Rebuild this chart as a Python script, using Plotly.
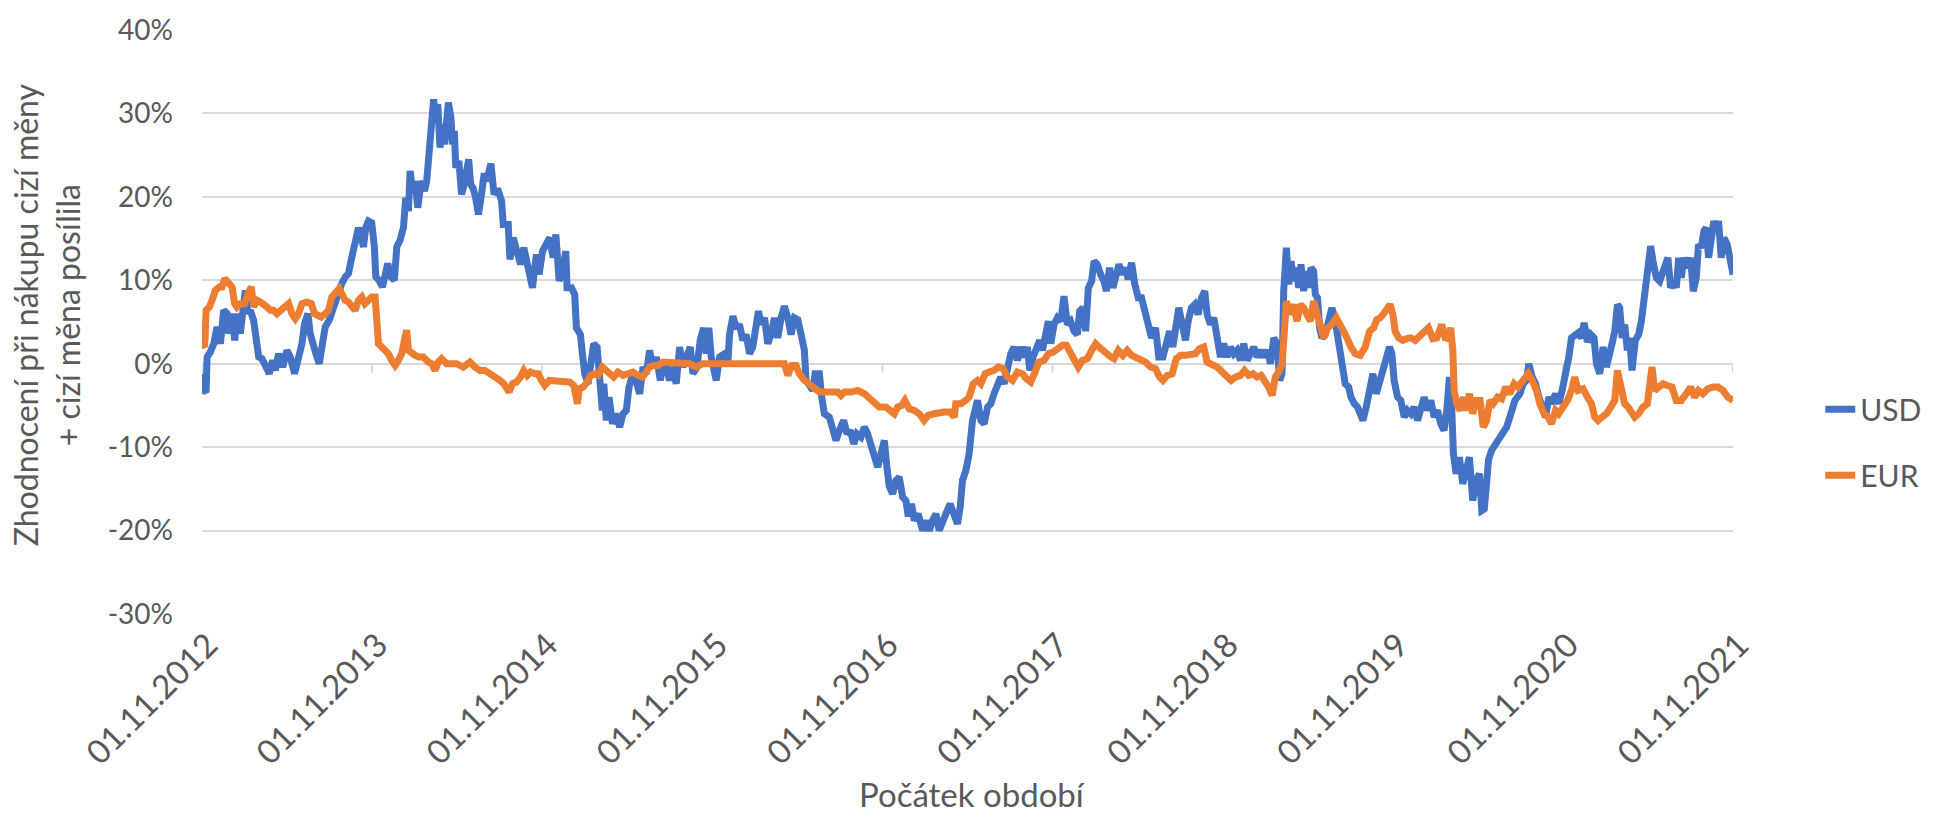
import pandas as pd
import plotly.graph_objects as go

# ---------------- data ----------------
# (months since 01.11.2012, % change)
usd_readings = [
    (0, -1.2), (0.12, -3.2), (0.29, -3.4), (0.36, 0.8), (0.59, 1.4), (0.83, 2.4), (1.06, 4.4), (1.30, 2.4),
    (1.53, 6.4), (1.77, 6.0), (1.88, 3.6), (2.12, 6.0), (2.31, 2.8), (2.47, 6.0), (2.70, 3.6), (2.82, 5.2),
    (3.06, 8.8), (3.24, 6.0), (3.41, 6.4), (3.64, 5.2), (3.81, 3.2), (4.00, 0.8), (4.23, 0.6), (4.47, -0.4),
    (4.75, -1.2), (4.98, 0.4), (5.17, -0.8), (5.40, 1.2), (5.69, -0.4), (5.99, 1.6), (6.23, 0.8), (6.53, -1.2),
    (6.77, 0.4), (7.05, 2.4), (7.23, 4.8), (7.47, 6.0), (7.63, 3.6), (7.80, 2.4), (8.03, 1.2), (8.27, 0.0),
    (8.45, 2.4), (8.69, 4.4), (8.97, 5.2), (9.21, 6.4), (9.44, 7.6), (9.68, 9.2), (9.86, 9.6), (10.10, 10.4),
    (10.33, 10.8), (10.57, 12.8), (10.80, 14.8), (11.04, 16.3), (11.23, 15.2), (11.39, 14.0), (11.55, 16.3),
    (11.74, 17.1), (11.97, 16.9), (12.16, 14.0), (12.26, 10.4), (12.49, 10.0), (12.73, 9.2), (12.92, 10.4),
    (13.10, 12.0), (13.34, 10.4), (13.57, 10.0), (13.74, 14.0), (13.97, 14.8), (14.21, 16.3), (14.37, 19.9),
    (14.56, 18.3), (14.68, 23.1), (14.85, 20.7), (15.03, 21.9), (15.22, 18.7), (15.46, 21.9), (15.69, 20.7),
    (15.85, 21.9), (15.97, 24.3), (16.15, 28.7), (16.34, 31.7), (16.49, 29.1), (16.63, 31.1), (16.79, 25.9),
    (16.96, 28.7), (17.10, 26.3), (17.26, 29.9), (17.38, 31.3), (17.56, 29.5), (17.66, 26.3), (17.80, 27.9),
    (17.90, 23.5), (18.12, 24.3), (18.31, 20.3), (18.5, 21.5), (18.81, 24.5), (18.95, 21.5), (19.13, 21.0),
    (19.30, 19.9), (19.5, 17.9), (19.72, 20.3), (19.9, 22.8), (20.07, 21.9), (20.38, 24.0), (20.6, 20.3),
    (20.85, 21.0), (21.13, 19.5), (21.25, 16.7), (21.6, 16.7), (21.72, 12.5), (21.95, 15.1), (22.18, 13.3),
    (22.47, 11.9), (22.7, 13.9), (23.0, 11.5), (23.31, 9.1), (23.59, 13.1), (23.78, 10.7), (24.02, 13.5),
    (24.3, 14.3), (24.53, 15.1), (24.77, 12.7), (24.96, 15.5), (25.19, 9.9), (25.47, 11.5), (25.66, 13.5),
    (25.75, 9.1), (26.06, 9.1), (26.29, 8.3), (26.41, 4.3), (26.69, 3.5), (26.83, 1.2), (27.0, -1.2),
    (27.23, -2.4), (27.47, 0.4), (27.63, 2.4), (27.87, 2.0), (28.05, -2.0), (28.24, -5.6), (28.34, -2.4),
    (28.52, -6.8), (28.71, -4.0), (28.95, -7.2), (29.18, -6.0), (29.46, -7.6), (29.7, -6.0), (29.93, -5.6),
    (30.12, -2.8), (30.4, -1.2), (30.68, -2.4), (30.87, -3.6), (31.11, -0.4), (31.34, -1.2), (31.57, 1.6),
    (31.81, -0.4), (32.05, 0.8), (32.33, -2.0), (32.51, 0.0), (32.75, -0.4), (32.98, -2.0), (33.17, -0.4),
    (33.45, -2.4), (33.69, 2.0), (33.92, -0.4), (34.2, 1.2), (34.44, 2.0), (34.63, -1.2), (34.91, -0.4),
    (35.14, 2.8), (35.38, 4.3), (35.57, 1.2), (35.75, 4.3), (35.92, 0.8), (36.1, -0.8), (36.27, -2.0),
    (36.51, 0.8), (36.86, 1.2), (37.09, 0.0), (37.21, 3.5), (37.45, 5.7), (37.68, 4.3), (37.91, 4.7),
    (38.15, 2.8), (38.38, 3.5), (38.62, 1.2), (38.85, 2.0), (39.02, 4.3), (39.25, 6.3), (39.44, 4.7),
    (39.68, 5.5), (39.91, 2.4), (40.14, 3.5), (40.38, 5.5), (40.61, 3.1), (40.85, 5.5), (41.08, 6.9),
    (41.32, 5.5), (41.55, 3.5), (41.79, 5.5), (42.02, 5.3), (42.26, 3.5), (42.49, 1.6), (42.61, -2.0),
    (42.84, -2.8), (43.08, -3.2), (43.24, -1.2), (43.55, -1.2), (43.71, -4.0), (43.9, -6.0), (44.25, -6.4),
    (44.49, -7.6), (44.72, -9.2), (44.96, -8.0), (45.26, -6.8), (45.5, -8.4), (45.73, -8.0), (45.97, -9.6),
    (46.2, -8.4), (46.48, -8.8), (46.72, -7.6), (46.95, -8.4), (47.19, -10.0), (47.42, -10.8), (47.66, -12.4),
    (47.89, -10.8), (48.13, -9.2), (48.31, -12.4), (48.48, -14.7), (48.71, -15.6), (48.95, -14.0),
    (49.18, -13.6), (49.42, -16.0), (49.65, -16.4), (49.82, -18.3), (50.05, -16.8), (50.24, -18.8),
    (50.52, -18.0), (50.83, -20.0), (51.06, -18.8), (51.3, -20.0), (51.53, -18.8), (51.77, -18.0),
    (52.0, -20.0), (52.23, -18.8), (52.47, -18.0), (52.77, -16.8), (53.06, -18.0), (53.29, -19.2),
    (53.48, -17.2), (53.64, -14.0), (53.88, -12.8), (54.11, -10.8), (54.35, -6.8), (54.58, -5.6), (54.7, -4.4),
    (54.94, -6.8), (55.17, -7.2), (55.41, -5.2), (55.64, -4.8), (55.87, -3.6), (56.11, -2.8), (56.34, -1.6),
    (56.58, -2.4), (56.81, -0.4), (57.05, 1.2), (57.28, 2.0), (57.52, 0.4), (57.75, 2.0), (57.99, 0.8),
    (58.22, 2.0), (58.39, -0.8), (58.62, 0.8), (58.86, 1.6), (59.09, 2.8), (59.28, 1.6), (59.47, 3.5),
    (59.7, 5.1), (59.87, 2.4), (60.1, 4.7), (60.33, 5.5), (60.57, 5.1), (60.8, 8.1), (61.04, 4.7),
    (61.27, 5.1), (61.51, 3.9), (61.74, 3.5), (61.91, 6.3), (62.14, 6.7), (62.33, 3.9), (62.52, 9.1),
    (62.75, 9.9), (62.92, 12.3), (63.15, 11.9), (63.39, 10.7), (63.62, 9.9), (63.79, 8.7), (64.02, 11.5),
    (64.25, 9.1), (64.44, 10.3), (64.68, 11.9), (64.91, 10.7), (65.15, 11.5), (65.33, 10.1), (65.57, 12.1),
    (65.8, 9.5), (66.04, 7.9), (66.27, 7.9), (66.51, 6.3), (66.74, 4.7), (66.98, 3.1), (67.26, 4.3),
    (67.49, 0.8), (67.78, 0.8), (68.01, 2.4), (68.25, 3.9), (68.48, 2.0), (68.72, 5.1), (68.9, 6.7),
    (69.14, 4.7), (69.37, 2.8), (69.56, 5.1), (69.79, 6.7), (70.03, 7.1), (70.26, 5.9), (70.5, 7.9),
    (70.73, 8.7), (70.9, 5.9), (71.13, 4.7), (71.37, 5.5), (71.65, 2.4), (71.84, 0.8), (72.07, 2.4),
    (72.31, 0.8), (72.54, 2.0), (72.78, 1.2), (73.01, 1.6), (73.25, 0.4), (73.48, 2.4), (73.72, 0.4),
    (73.95, 1.2), (74.19, 2.0), (74.42, 0.8), (74.66, 1.6), (74.89, 0.8), (75.17, 1.6), (75.36, 0.0),
    (75.6, 3.1), (75.83, 2.4), (76.02, -2.0), (76.18, -1.2), (76.3, 8.7), (76.49, 13.9), (76.65, 9.5),
    (76.82, 12.3), (77.0, 9.9), (77.19, 11.5), (77.36, 9.1), (77.52, 11.9), (77.71, 8.7), (77.9, 11.1),
    (78.06, 9.1), (78.22, 11.5), (78.41, 11.1), (78.53, 8.3), (78.69, 7.9), (78.83, 4.3), (79.0, 3.1),
    (79.23, 3.5), (79.47, 5.1), (79.7, 6.7), (79.94, 5.1), (80.1, 3.5), (80.29, 2.0), (80.48, 0.4),
    (80.64, -2.4), (80.88, -2.8), (81.04, -4.0), (81.28, -4.8), (81.51, -5.2), (81.7, -6.0), (81.89, -6.8),
    (82.12, -5.2), (82.36, -2.8), (82.59, -1.2), (82.83, -3.6), (83.06, -2.0), (83.29, -0.4), (83.53, 1.2),
    (83.76, 2.0), (83.93, 1.2), (84.09, -2.0), (84.33, -4.0), (84.56, -4.4), (84.8, -6.4), (85.03, -5.6),
    (85.27, -6.0), (85.5, -5.2), (85.74, -6.8), (85.97, -5.2), (86.21, -4.0), (86.44, -5.6), (86.68, -4.4),
    (86.91, -6.4), (87.15, -5.6), (87.38, -7.2), (87.61, -8.0), (87.8, -5.6), (87.99, -1.6), (88.15, -5.2),
    (88.27, -10.8), (88.46, -13.2), (88.69, -11.2), (88.93, -14.4), (89.16, -12.4), (89.4, -11.2),
    (89.63, -16.4), (89.87, -14.0), (90.1, -13.2), (90.27, -17.6), (90.45, -17.4), (90.6, -14.5),
    (90.75, -11.5), (90.96, -10.4), (91.43, -9.2), (91.67, -8.4), (92.02, -7.6), (92.25, -6.4), (92.61, -4.4),
    (92.96, -3.6), (93.19, -2.4), (93.43, -2.0), (93.59, 0.0), (93.83, -1.6), (94.06, -2.4), (94.3, -4.0),
    (94.53, -5.6), (94.77, -6.4), (95.0, -4.0), (95.19, -4.8), (95.47, -3.6), (95.7, -4.8), (95.94, -3.2),
    (96.17, -1.6), (96.41, 0.8), (96.6, 3.1), (96.83, 3.5), (97.07, 3.7), (97.3, 3.1), (97.49, 4.9),
    (97.72, 2.6), (97.96, 3.5), (98.19, 3.1), (98.36, 0.0), (98.59, -1.2), (98.83, 2.0), (99.06, -0.4),
    (99.3, 2.0), (99.46, 2.4), (99.65, 3.9), (99.84, 7.1), (100.0, 6.7), (100.17, 3.1), (100.35, 4.7),
    (100.54, 1.6), (100.7, 3.1), (100.87, -0.8), (101.1, 2.8), (101.34, 3.5), (101.53, 5.1), (101.71, 7.5),
    (101.88, 8.7), (102.04, 10.7), (102.18, 14.1), (102.35, 12.3), (102.58, 10.3), (102.82, 9.9),
    (103.05, 11.1), (103.22, 12.3), (103.4, 12.7), (103.59, 9.1), (103.83, 9.9), (103.99, 9.1),
    (104.16, 12.7), (104.34, 10.3), (104.53, 12.7), (104.77, 11.5), (105.0, 12.7), (105.19, 8.7),
    (105.4, 10.3), (105.56, 14.3), (105.75, 13.9), (105.94, 15.9), (106.1, 16.3), (106.27, 12.7),
    (106.46, 14.7), (106.64, 17.1), (106.81, 15.9), (106.97, 17.1), (107.16, 12.7), (107.35, 15.1),
    (107.58, 14.3), (107.75, 12.7), (108.0, 10.7),
]

eur_readings = [
    (0, 2.4), (0.19, 2.0), (0.29, 6.4), (0.52, 6.8), (0.71, 7.6), (0.94, 8.8), (1.23, 9.2), (1.41, 9.2),
    (1.6, 10.2), (1.84, 9.6), (2.12, 9.2), (2.3, 7.2), (2.47, 6.8), (2.7, 7.2), (3.0, 7.2), (3.24, 8.4),
    (3.48, 9.2), (3.64, 6.8), (3.88, 7.6), (4.11, 7.4), (4.35, 7.2), (4.58, 6.8), (4.82, 6.4), (5.05, 6.4),
    (5.29, 6.0), (5.52, 6.4), (5.76, 6.8), (6.11, 7.2), (6.34, 6.0), (6.58, 5.4), (6.81, 6.0), (7.05, 7.2),
    (7.4, 7.4), (7.71, 7.2), (7.94, 6.0), (8.17, 5.8), (8.41, 5.6), (8.69, 6.0), (8.92, 6.4), (9.16, 8.0),
    (9.39, 8.4), (9.68, 9.0), (9.86, 8.4), (10.1, 7.6), (10.33, 7.4), (10.57, 6.8), (10.8, 6.4), (11.04, 7.6),
    (11.27, 8.0), (11.5, 7.2), (11.74, 7.6), (11.97, 8.0), (12.21, 8.0), (12.33, 3.6), (12.45, 2.4),
    (12.68, 2.0), (12.92, 1.6), (13.15, 1.2), (13.38, 0.4), (13.62, -0.2), (13.85, 0.4), (14.09, 1.2),
    (14.32, 3.2), (14.44, 4.0), (14.56, 1.6), (14.79, 1.2), (15.03, 1.0), (15.31, 0.8), (15.61, 0.8),
    (15.97, 0.2), (16.2, 0.0), (16.44, -0.8), (16.67, 0.2), (16.9, 0.6), (17.26, 0.0), (17.61, 0.0),
    (17.96, 0.0), (18.43, -0.4), (18.9, 0.2), (19.25, -0.4), (19.6, -0.8), (19.95, -0.8), (20.31, -1.2),
    (20.66, -1.4), (21.01, -2.0), (21.29, -2.4), (21.48, -2.8), (21.67, -3.4), (21.9, -2.4), (22.18, -2.2),
    (22.47, -1.6), (22.7, -0.8), (22.94, -1.4), (23.17, -1.0), (23.48, -1.2), (23.71, -1.2), (23.95, -2.0),
    (24.18, -2.6), (24.49, -2.0), (24.88, -2.0), (25.24, -2.0), (25.59, -2.0), (25.94, -2.2), (26.22, -2.6),
    (26.36, -3.6), (26.48, -4.8), (26.6, -3.0), (26.88, -2.8), (27.16, -2.2), (27.4, -1.4), (27.63, -1.2),
    (27.94, -1.4), (28.24, -0.4), (28.48, -0.8), (28.76, -1.0), (29.04, -1.6), (29.34, -1.0), (29.7, -1.4),
    (30.05, -1.2), (30.4, -1.0), (30.75, -1.4), (31.06, -1.6), (31.34, -1.0), (31.57, -0.4), (31.86, -0.2),
    (32.16, -0.2), (32.51, 0.2), (32.98, 0.2), (33.45, 0.2), (33.92, 0.2), (34.39, 0.0), (34.86, -0.4),
    (35.33, 0.0), (35.8, 0.0), (36.15, 0.0), (36.86, 0.2), (37.56, 0.2), (38.27, 0.2), (38.97, 0.0),
    (39.68, 0.0), (40.38, 0.0), (41.08, 0.0), (41.32, -1.4), (41.6, -0.2), (41.9, -0.2), (42.14, -1.2),
    (42.49, -2.0), (42.84, -2.4), (43.2, -3.0), (43.55, -3.4), (43.9, -3.4), (44.37, -3.4), (44.84, -3.4),
    (45.07, -3.8), (45.31, -3.4), (45.78, -3.4), (46.25, -3.2), (46.72, -3.6), (47.07, -4.2), (47.42, -4.8),
    (47.77, -5.2), (48.24, -5.2), (48.6, -5.6), (48.83, -6.0), (49.07, -5.2), (49.35, -5.0), (49.58, -4.4),
    (49.89, -5.4), (50.24, -5.6), (50.59, -6.0), (50.94, -6.8), (51.22, -6.2), (51.65, -6.0), (52.0, -5.8),
    (52.35, -5.8), (52.77, -5.8), (53.06, -6.4), (53.17, -4.8), (53.53, -4.8), (53.88, -4.4), (54.11, -4.0),
    (54.4, -2.4), (54.7, -2.0), (54.94, -2.4), (55.24, -1.2), (55.52, -1.0), (55.87, -0.8), (56.18, -0.4),
    (56.51, -0.6), (56.81, -1.6), (57.17, -2.0), (57.52, -1.0), (57.87, -1.2), (58.15, -1.8), (58.46, -2.2),
    (58.76, -1.0), (59.04, 0.2), (59.4, 0.4), (59.7, 1.2), (60.03, 1.4), (60.33, 1.8), (60.69, 2.2),
    (60.97, 2.2), (61.27, 1.2), (61.51, 0.8), (61.81, -0.4), (62.1, 0.4), (62.45, 0.6), (62.75, 1.6),
    (63.03, 2.4), (63.27, 2.0), (63.62, 1.4), (63.97, 1.0), (64.33, 0.6), (64.63, 1.6), (64.96, 1.0),
    (65.26, 1.6), (65.57, 1.0), (65.85, 0.8), (66.2, 0.6), (66.56, 0.2), (66.91, -0.4), (67.26, -0.6),
    (67.54, -1.6), (67.78, -2.0), (68.08, -1.4), (68.43, -1.2), (68.72, 0.6), (69.02, 1.0), (69.37, 1.0),
    (69.73, 1.2), (70.08, 1.2), (70.36, 1.8), (70.66, 2.0), (70.9, 0.2), (71.25, 0.0), (71.6, -0.4),
    (71.96, -1.0), (72.31, -1.6), (72.59, -2.0), (72.9, -1.6), (73.25, -1.4), (73.53, -0.8), (73.83, -1.4),
    (74.14, -1.2), (74.42, -1.6), (74.7, -1.4), (75.01, -2.2), (75.24, -2.8), (75.48, -3.8), (75.71, -1.6),
    (75.95, -1.0), (76.18, 0.0), (76.35, 3.9), (76.49, 7.5), (76.72, 5.9), (76.96, 7.1), (77.24, 5.1),
    (77.47, 7.1), (77.71, 6.7), (77.94, 5.9), (78.18, 5.1), (78.41, 7.5), (78.65, 5.9), (78.88, 3.9),
    (79.12, 3.1), (79.4, 4.3), (79.7, 4.7), (80.01, 5.5), (80.29, 4.7), (80.52, 3.9), (80.76, 3.1),
    (81.04, 2.0), (81.35, 1.2), (81.7, 1.0), (82.05, 2.0), (82.36, 3.9), (82.64, 4.3), (82.87, 5.3),
    (83.11, 5.5), (83.39, 6.1), (83.62, 6.7), (83.81, 7.1), (84.0, 5.9), (84.16, 3.9), (84.4, 3.1),
    (84.7, 2.8), (84.99, 3.0), (85.27, 3.1), (85.57, 2.8), (85.88, 3.3), (86.16, 3.9), (86.51, 4.3),
    (86.82, 3.0), (87.1, 3.1), (87.45, 4.7), (87.69, 3.1), (87.92, 3.0), (88.08, 4.3), (88.23, 1.6),
    (88.32, -3.2), (88.51, -4.8), (88.74, -5.6), (88.98, -4.0), (89.16, -5.6), (89.4, -3.6), (89.63, -6.0),
    (89.87, -4.4), (90.15, -4.4), (90.38, -7.6), (90.61, -6.8), (90.85, -4.4), (91.08, -4.8), (91.39, -4.0),
    (91.67, -4.2), (91.95, -2.8), (92.25, -3.6), (92.56, -2.4), (92.84, -2.8), (93.19, -2.0), (93.55, -1.2),
    (93.83, -2.0), (94.13, -3.2), (94.37, -4.8), (94.67, -6.0), (94.95, -6.4), (95.19, -7.2), (95.47, -5.6),
    (95.7, -6.0), (96.01, -5.2), (96.32, -4.4), (96.6, -3.2), (96.83, -1.6), (97.07, -3.2), (97.42, -3.0),
    (97.72, -4.0), (98.01, -4.8), (98.24, -6.4), (98.47, -6.8), (98.76, -6.4), (99.06, -6.0), (99.37, -5.2),
    (99.65, -4.4), (99.84, -0.8), (100.0, -2.4), (100.17, -3.2), (100.35, -4.8), (100.59, -5.2),
    (100.82, -6.0), (101.06, -6.4), (101.34, -6.0), (101.64, -5.2), (101.95, -4.8), (102.11, -3.2),
    (102.28, -0.4), (102.47, -3.2), (102.75, -2.8), (103.05, -2.4), (103.36, -2.6), (103.69, -2.8),
    (103.99, -4.4), (104.34, -4.4), (104.7, -3.6), (105.0, -2.8), (105.28, -4.0), (105.56, -3.2),
    (105.87, -3.6), (106.22, -3.0), (106.57, -2.8), (106.93, -2.8), (107.28, -3.2), (107.63, -4.0),
    (108.0, -4.4),
]

series_names = ["USD", "EUR"]
series_colors = ["#4472C4", "#ED7D31"]
tick_years = list(range(2012, 2022))
y_ticks = [-30, -20, -10, 0, 10, 20, 30, 40]
y_ticktext = [f"{v}%" for v in y_ticks]
y_title = "Zhodnocení při nákupu cizí měny<br>+ cizí měna posílila"
x_title = "Počátek období"

START = pd.Timestamp("2012-11-01")
END = pd.Timestamp("2021-11-01")


def to_dates(months):
    return [START + pd.Timedelta(days=m * 365.25 / 12) for m in months]


FONT = "Lato"
GREY = "#595959"

fig = go.Figure()
for name, color, readings in zip(series_names, series_colors, [usd_readings, eur_readings]):
    months = [r[0] for r in readings]
    values = [r[1] for r in readings]
    fig.add_trace(go.Scatter(
        x=to_dates(months), y=values, mode="lines", name=name, legendgroup=name,
        line=dict(color=color, width=7),
    ))

tick_dates = [pd.Timestamp(f"{y}-11-01") for y in tick_years]
shapes = []
for d in tick_dates:
    shapes.append(dict(type="line", xref="x", yref="y", x0=d, x1=d, ysizemode="pixel",
                       yanchor=0, y0=0, y1=-9, line=dict(color="#d9d9d9", width=2), layer="below"))

fig.update_layout(
    width=1939, height=818,
    margin=dict(l=202, r=204, t=28, b=204),
    paper_bgcolor="white", plot_bgcolor="white",
    font=dict(family=FONT, color=GREY, size=30),
    showlegend=True,
    legend=dict(x=1.057, y=0.395, xanchor="left", yanchor="top", font=dict(size=30, color=GREY),
                tracegroupgap=24, bgcolor="rgba(0,0,0,0)"),
    xaxis=dict(type="date", range=[START, END], tickvals=tick_dates,
               ticktext=[f"01.11.{y}" for y in tick_years], tickangle=-45,
               showgrid=False, zeroline=False, showline=False, ticks="",
               ticklabelshift=6, ticklabelstandoff=4,
               tickfont=dict(size=33, color=GREY, family=FONT)),
    yaxis=dict(range=[-30, 40], tickvals=y_ticks, ticktext=y_ticktext,
               showgrid=True, gridcolor="#d9d9d9", gridwidth=2, zeroline=False,
               showline=False, ticks="", ticklabelstandoff=28,
               tickfont=dict(size=28, color=GREY, family=FONT)),
    shapes=shapes,
    annotations=[
        dict(text=y_title, xref="paper", yref="paper", x=-0.101, y=0.512, xanchor="center",
             yanchor="middle", textangle=-90, showarrow=False, font=dict(size=32, color=GREY, family=FONT)),
        dict(text=x_title, xref="paper", yref="paper", x=0.503, y=-0.309, xanchor="center",
             yanchor="middle", showarrow=False, font=dict(size=33, color=GREY, family=FONT)),
    ],
)

fig.write_html("out.html", config={"displayModeBar": False},
               post_script="document.body.style.margin='0';document.body.style.overflow='hidden';")
